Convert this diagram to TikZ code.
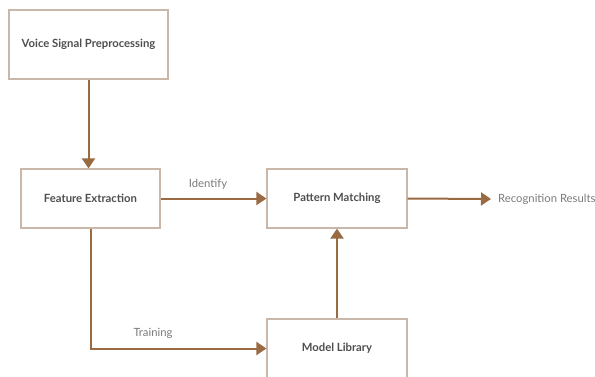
\documentclass[tikz,border=0pt]{standalone}
\usepackage{fontspec}
\setmainfont{Lato}
\usetikzlibrary{positioning, arrows.meta}
\definecolor{boxline}{HTML}{C9B7AA}
\definecolor{flowbrown}{HTML}{9A6A42}
\definecolor{boxtext}{HTML}{4F4F4F}
\definecolor{labeltext}{HTML}{7A7A7A}

\begin{document}
\begin{tikzpicture}[x=1pt, y=-1pt,
        box/.style={draw=boxline, line width=1.2pt, fill=white, minimum width=140pt, minimum height=59pt,
          text centered, text=boxtext, font=\fontsize{11.3}{13}\selectfont\bfseries},
        flow/.style={-{Triangle[length=10pt, width=13pt]}, line width=2pt, flowbrown},
        lbl/.style={text=labeltext, font=\fontsize{11.3}{13}\selectfont}]
      \useasboundingbox (0,0) rectangle (595,376);
      % Flow diagram
      \node[box, minimum width=159pt, minimum height=69pt] (pre) at (88.5,44.5) {Voice Signal Preprocessing};
      \node[box, minimum width=139pt] (feat) at (90.5,198.5) {Feature Extraction};
      \node[box] (match) at (337,198.5) {Pattern Matching};
      \node[box] (lib) at (337,348.5) {Model Library};
      \node[lbl, anchor=west, inner sep=0pt] (result) at (498,199) {Recognition Results};

      \draw[flow] (pre.south) -- (pre.south |- feat.north);
      \draw[flow] (feat.east) -- (match.west);
      \draw[flow] (match.east) -- ([xshift=-7pt]result.west);
      \draw[flow] (lib.north) -- (match.south);
      \draw[flow] (feat.south) |- (lib.west);

      \node[lbl] (identify) at (208,184) {Identify};
      \node[lbl] (training) at (153,333) {Training};
    \end{tikzpicture}
\end{document}
